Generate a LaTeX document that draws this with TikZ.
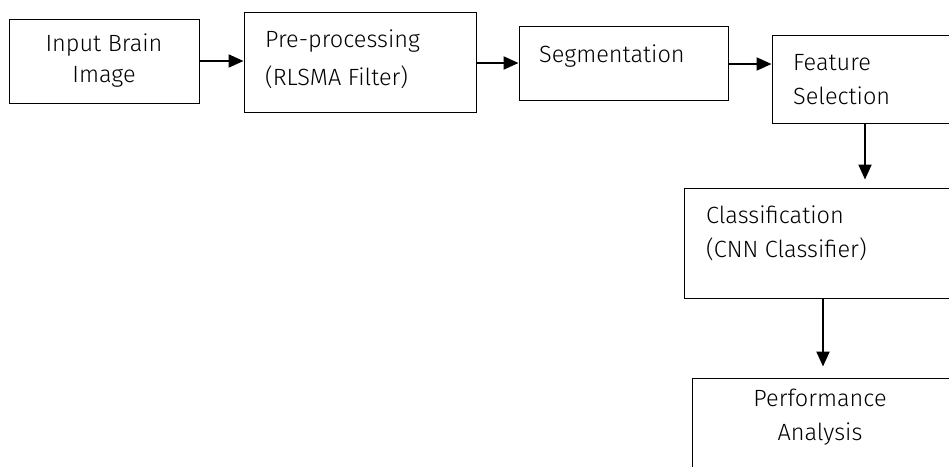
\documentclass[tikz,border=0pt]{standalone}
\usepackage{fontspec}
\setmainfont{Fira Sans Light}
\usetikzlibrary{arrows.meta}

\begin{document}
\begin{tikzpicture}[x=1pt,y=-1pt,>={Triangle[length=15pt,width=13pt]}, every node/.style={font=\fontsize{23.5}{34}\selectfont},
    box/.style={draw,line width=1pt,inner sep=0pt},
    lbl/.style={inner sep=0pt,anchor=base west,align=left},
    flow/.style={->,line width=2.2pt}]
                \useasboundingbox (0,0) rectangle (949,466);
                \clip (0,0) rectangle (949,466);

                \node[box,minimum width=190pt,minimum height=84pt,align=center,font=\fontsize{23.5}{31}\selectfont] (inp) at (104,61) {Input Brain\\Image};
                \node[box,minimum width=232pt,minimum height=100pt] (pre) at (360,62) {};
                \node[box,minimum width=209pt,minimum height=74pt] (seg) at (623.5,63) {};
                \node[box,minimum width=186pt,minimum height=88pt] (feat) at (865,79) {};
                \node[box,minimum width=278pt,minimum height=110pt] (cls) at (823,243) {};
                \node[box,minimum width=300pt,minimum height=130pt] (perf) at (842,443) {};

                % base anchor sits on the last line
                \node[lbl,font=\fontsize{23.5}{38}\selectfont] (pre-t) at (265,85) {Pre-processing\\(RLSMA Filter)};
                \node[lbl] (seg-t) at (539,62) {Segmentation};
                \node[lbl] (feat-t) at (793,104) {Feature\\Selection};
                \node[lbl] (cls-t) at (706,257) {Classification\\(CNN Classifier)};
                \node[lbl,anchor=base,align=center] (perf-t) at (820,440) {Performance\\Analysis};

                \draw[flow] (inp.east) -- (inp.east -| pre.west);
                \draw[flow] ([yshift=-1pt]pre.east) -- ([yshift=-1pt]pre.east -| seg.west);
                \draw[flow] ([yshift=-1pt]seg.east) -- ([yshift=-1pt]seg.east -| feat.west);
                \draw[flow,shorten >=8pt] (feat.south) -- (feat.south |- cls.north);
                \draw[flow,shorten >=11pt] (cls.south) -- (cls.south |- perf.north);
            \end{tikzpicture}
\end{document}
